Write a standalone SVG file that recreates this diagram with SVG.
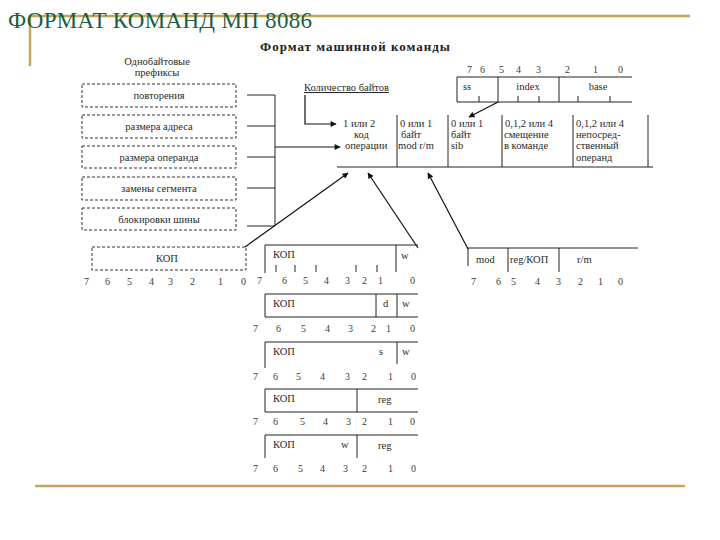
<svg xmlns="http://www.w3.org/2000/svg" width="720" height="540" viewBox="0 0 720 540">
<defs>
<marker id="ah" viewBox="0 0 10 10" refX="9" refY="5" markerWidth="7" markerHeight="6" orient="auto" markerUnits="userSpaceOnUse">
<path d="M0,0 L10,5 L0,10 z" fill="#111"/>
</marker>
<style>
.t{font-family:"Liberation Serif",serif;font-size:10.5px;fill:#2a2a2a}
.b{font-family:"Liberation Serif",serif;font-size:10px;fill:#3a3a3a}
.ln{stroke:#222;stroke-width:1;fill:none}
.ds{stroke:#333;stroke-width:1;fill:none;stroke-dasharray:3,2}
.ar{stroke:#111;stroke-width:1.2;fill:none;marker-end:url(#ah)}
.gold{stroke:#c4a45a;stroke-width:2.5;fill:none}
</style>
</defs>
<rect width="720" height="540" fill="#fff"/>
<g id="frame">
<line class="gold" x1="30" y1="16" x2="690" y2="16"/>
<line class="gold" x1="30" y1="16" x2="30" y2="66"/>
<line class="gold" x1="35" y1="486" x2="685" y2="486"/>
</g>
<text x="8" y="28" font-family="Liberation Serif,serif" font-size="23" fill="#17603f" textLength="304">ФОРМАТ КОМАНД МП 8086</text>
<text x="260" y="51" font-family="Liberation Serif,serif" font-size="13" font-weight="bold" fill="#222" textLength="190">Формат машинной команды</text>
<g id="prefix-title">
<text class="t" x="157" y="65" text-anchor="middle">Однобайтовые</text>
<text class="t" x="157" y="76" text-anchor="middle">префиксы</text>
</g>
<g id="p1"><rect class="ds" x="82" y="84" width="154" height="23"/><text class="t" x="159" y="99" text-anchor="middle">повторения</text></g>
<g id="p2"><rect class="ds" x="82" y="115" width="154" height="23"/><text class="t" x="159" y="130" text-anchor="middle">размера адреса</text></g>
<g id="p3"><rect class="ds" x="82" y="146" width="154" height="22"/><text class="t" x="159" y="161" text-anchor="middle">размера операнда</text></g>
<g id="p4"><rect class="ds" x="82" y="177" width="154" height="23"/><text class="t" x="159" y="192" text-anchor="middle">замены сегмента</text></g>
<g id="p5"><rect class="ds" x="82" y="208" width="154" height="22"/><text class="t" x="159" y="223" text-anchor="middle">блокировки шины</text></g>
<g id="count-label">
<text class="t" x="304" y="91" text-decoration="underline">Количество байтов</text>
</g>
<g id="main-format">
<line class="ln" x1="337" y1="167" x2="653" y2="167"/>
<line class="ln" x1="397" y1="115" x2="397" y2="167"/>
<line class="ln" x1="448" y1="115" x2="448" y2="167"/>
<line class="ln" x1="502" y1="115" x2="502" y2="167"/>
<line class="ln" x1="573" y1="115" x2="573" y2="167"/>
<line class="ln" x1="648" y1="115" x2="648" y2="167"/>
<text class="t" x="343" y="127">1 или 2</text>
<text class="t" x="400" y="127">0 или 1</text>
<text class="t" x="451" y="127">0 или 1</text>
<text class="t" x="505" y="127">0,1,2 или 4</text>
<text class="t" x="576" y="127">0,1,2 или 4</text>
<text class="t" x="354" y="138">код</text>
<text class="t" x="345" y="149">операции</text>
<text class="t" x="401" y="138">байт</text>
<text class="t" x="398" y="149">mod r/m</text>
<text class="t" x="451" y="138">байт</text>
<text class="t" x="451" y="149">sib</text>
<text class="t" x="504" y="138">смещение</text>
<text class="t" x="504" y="149">в команде</text>
<text class="t" x="576" y="138">непосред-</text>
<text class="t" x="576" y="149">ственный</text>
<text class="t" x="576" y="161">операнд</text>
</g>
<g id="sib">
<text class="b" x="467" y="73">7</text><text class="b" x="480" y="73">6</text><text class="b" x="499" y="73">5</text><text class="b" x="516" y="73">4</text><text class="b" x="536" y="73">3</text><text class="b" x="565" y="73">2</text><text class="b" x="593" y="73">1</text><text class="b" x="618" y="73">0</text>
<line class="ln" x1="457" y1="77" x2="632" y2="77"/>
<line class="ln" x1="457" y1="102" x2="632" y2="102"/>
<line class="ln" x1="457" y1="77" x2="457" y2="102"/>
<line class="ln" x1="498" y1="77" x2="498" y2="102"/>
<line class="ln" x1="559" y1="77" x2="559" y2="102"/>
<path class="ln" d="M479,96V102M518,96V102M539,96V102M578,96V102M610,96V102"/>
<text class="t" x="463" y="90">ss</text>
<text class="t" x="528" y="90" text-anchor="middle">index</text>
<text class="t" x="598" y="90" text-anchor="middle">base</text>
</g>
<g id="kop1">
<rect class="ds" x="92" y="247" width="154" height="23"/>
<text class="t" x="167" y="262" text-anchor="middle">КОП</text>
<text class="b" x="84" y="285">7</text><text class="b" x="105" y="285">6</text><text class="b" x="127" y="285">5</text><text class="b" x="149" y="285">4</text><text class="b" x="168" y="285">3</text><text class="b" x="190" y="285">2</text><text class="b" x="218" y="285">1</text><text class="b" x="241" y="285">0</text>
</g>
<g id="f1">
<line class="ln" x1="265" y1="245" x2="418" y2="245"/>
<line class="ln" x1="265" y1="245" x2="265" y2="273"/>
<line class="ln" x1="396" y1="245" x2="396" y2="272"/>
<path class="ln" d="M276,265V272M295,265V272M316,265V272M356,265V272M377,265V272"/>
<text class="t" x="273" y="258">КОП</text>
<text class="t" x="401" y="259">w</text>
<text class="b" x="257" y="284">7</text><text class="b" x="282" y="284">6</text><text class="b" x="303" y="284">5</text><text class="b" x="324" y="284">4</text><text class="b" x="345" y="284">3</text><text class="b" x="362" y="284">2</text><text class="b" x="378" y="284">1</text><text class="b" x="410" y="284">0</text>
</g>
<g id="f2">
<line class="ln" x1="265" y1="294" x2="418" y2="294"/>
<line class="ln" x1="265" y1="317" x2="418" y2="317"/>
<line class="ln" x1="265" y1="294" x2="265" y2="317"/>
<line class="ln" x1="376" y1="294" x2="376" y2="317"/>
<line class="ln" x1="397" y1="294" x2="397" y2="317"/>
<text class="t" x="273" y="307">КОП</text>
<text class="t" x="383" y="307">d</text>
<text class="t" x="402" y="307">w</text>
<text class="b" x="253" y="332">7</text><text class="b" x="276" y="332">6</text><text class="b" x="301" y="332">5</text><text class="b" x="325" y="332">4</text><text class="b" x="348" y="332">3</text><text class="b" x="371" y="332">2</text><text class="b" x="386" y="332">1</text><text class="b" x="410" y="332">0</text>
</g>
<g id="f3">
<line class="ln" x1="265" y1="342" x2="418" y2="342"/>
<line class="ln" x1="265" y1="342" x2="265" y2="368"/>
<line class="ln" x1="397" y1="342" x2="397" y2="364"/>
<text class="t" x="273" y="355">КОП</text>
<text class="t" x="379" y="355">s</text>
<text class="t" x="402" y="355">w</text>
<text class="b" x="253" y="380">7</text><text class="b" x="273" y="380">6</text><text class="b" x="296" y="380">5</text><text class="b" x="320" y="380">4</text><text class="b" x="345" y="380">3</text><text class="b" x="362" y="380">2</text><text class="b" x="388" y="380">1</text><text class="b" x="411" y="380">0</text>
</g>
<g id="f4">
<line class="ln" x1="265" y1="389" x2="418" y2="389"/>
<line class="ln" x1="265" y1="412" x2="418" y2="412"/>
<line class="ln" x1="265" y1="389" x2="265" y2="412"/>
<line class="ln" x1="357" y1="389" x2="357" y2="412"/>
<text class="t" x="273" y="402">КОП</text>
<text class="t" x="378" y="403">reg</text>
<text class="b" x="253" y="425">7</text><text class="b" x="273" y="425">6</text><text class="b" x="300" y="425">5</text><text class="b" x="323" y="425">4</text><text class="b" x="346" y="425">3</text><text class="b" x="362" y="425">2</text><text class="b" x="388" y="425">1</text><text class="b" x="410" y="425">0</text>
</g>
<g id="f5">
<line class="ln" x1="265" y1="435" x2="418" y2="435"/>
<line class="ln" x1="265" y1="435" x2="265" y2="458"/>
<line class="ln" x1="357" y1="435" x2="357" y2="458"/>
<text class="t" x="273" y="448">КОП</text>
<text class="t" x="341" y="448">w</text>
<text class="t" x="378" y="449">reg</text>
<text class="b" x="253" y="472">7</text><text class="b" x="273" y="472">6</text><text class="b" x="298" y="472">5</text><text class="b" x="320" y="472">4</text><text class="b" x="343" y="472">3</text><text class="b" x="362" y="472">2</text><text class="b" x="388" y="472">1</text><text class="b" x="411" y="472">0</text>
</g>
<g id="modrm">
<line class="ln" x1="467" y1="248" x2="638" y2="248"/>
<line class="ln" x1="468" y1="248" x2="468" y2="266"/>
<line class="ln" x1="508" y1="248" x2="508" y2="272"/>
<line class="ln" x1="559" y1="248" x2="559" y2="272"/>
<text class="t" x="476" y="263">mod</text>
<text class="t" x="510" y="263">reg/КОП</text>
<text class="t" x="577" y="263">r/m</text>
<text class="b" x="471" y="285">7</text><text class="b" x="496" y="285">6</text><text class="b" x="511" y="285">5</text><text class="b" x="535" y="285">4</text><text class="b" x="556" y="285">3</text><text class="b" x="578" y="285">2</text><text class="b" x="598" y="285">1</text><text class="b" x="618" y="285">0</text>
</g>
<g id="connectors">
<path class="ln" d="M247,95H275M247,126H275M247,157H275M247,188H275M247,226H275M275,95V226"/>
<path class="ar" d="M305,95V124H336"/>
<path class="ar" d="M275,147H340"/>
<path class="ar" d="M498,102L469,117"/>
<path class="ar" d="M245,247L348,173"/>
<path class="ar" d="M418,248L368,173"/>
<path class="ar" d="M468,249L428,173"/>
</g>
</svg>
